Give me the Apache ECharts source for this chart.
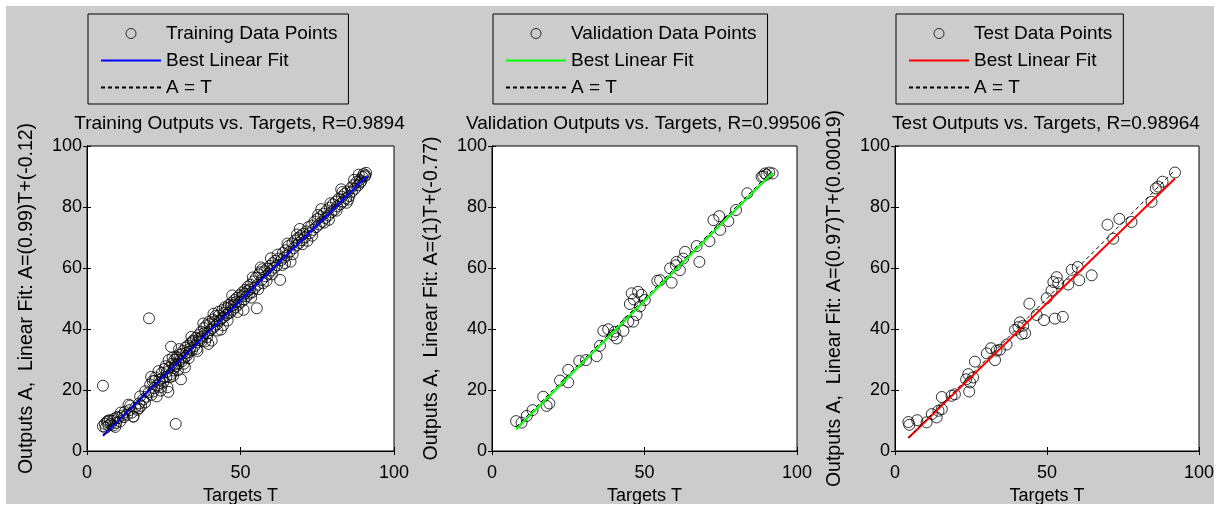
<!DOCTYPE html>
<html>
<head>
<meta charset="utf-8">
<script src="https://cdn.jsdelivr.net/npm/echarts@6/dist/echarts.min.js"></script>
<style>
  html, body { margin: 0; padding: 0; background: #ffffff; }
  #chart { position: absolute; left: 6px; top: 6px; width: 1208px; height: 498px; }
</style>
</head>
<body>
<div id="chart"></div>
<script>
// Regression results: [target T, output A] pairs for each data split
const trainingPoints = [
  [5.2,8.1],[5.8,8.9],[6.1,7.6],[6.5,9.5],[7.0,8.4],[7.4,10.1],[7.8,8.8],[8.3,9.9],[8.9,10.6],[9.5,9.2],[10.1,10.8],[10.8,9.7],[11.5,11.6],
  [12.3,12.8],[13.1,11.9],[13.8,13.4],[14.6,12.6],[15.1,11.3],[15.7,14.2],[16.4,13.5],[17.0,15.6],[17.6,14.8],[18.3,16.9],[18.9,15.9],[19.4,17.8],
  [20.1,19.2],[20.6,21.8],[21.0,18.4],[21.4,22.9],[21.9,20.6],[22.3,24.1],[22.7,17.9],[23.1,21.5],[23.6,23.4],[24.0,19.8],[24.4,25.6],[24.9,22.7],
  [25.3,26.9],[25.8,24.3],[26.2,20.9],[26.5,19.4],[26.8,27.3],[27.2,25.1],[27.4,34.2],[27.7,28.6],[28.1,26.4],[28.5,29.9],[28.9,8.9],[29.0,27.8],
  [29.4,30.5],[29.8,28.7],[30.2,31.6],[30.6,23.5],[30.9,29.4],[31.3,32.8],[31.7,30.6],[32.1,33.9],[32.5,31.2],[32.9,34.6],[33.3,32.5],[33.8,35.3],
  [34.2,33.1],[34.6,36.2],[35.0,34.4],[35.5,37.1],[35.9,35.6],[36.3,38.0],[36.8,36.3],[37.2,39.1],[37.6,37.5],[38.1,40.3],[38.5,35.9],[38.9,41.2],
  [39.3,38.6],[39.8,42.4],[40.2,39.7],[40.6,36.2],[41.0,43.1],[41.5,40.8],[41.9,44.3],[42.3,41.5],[42.8,45.6],[43.2,42.7],[43.6,39.8],[44.1,46.2],
  [44.5,43.9],[44.9,47.1],[45.4,44.6],[45.8,42.8],[46.2,47.9],[46.7,45.4],[47.1,48.6],[47.5,46.3],[48.0,49.5],[48.4,47.1],[48.8,50.2],[49.3,48.0],
  [49.7,51.1],[50.2,48.9],[50.6,52.0],[51.1,49.6],[51.5,52.8],[52.0,50.7],[52.4,53.9],[52.9,51.6],[53.3,54.5],[53.8,52.1],[54.2,55.6],[54.6,53.4],
  [55.1,56.8],[55.3,46.8],[55.6,54.5],[56.0,57.9],[56.4,58.6],[56.9,56.1],[57.3,55.0],[57.8,58.9],[58.2,57.3],[58.7,59.8],[59.1,58.1],[59.6,60.7],
  [60.0,59.2],[60.5,61.6],[61.0,60.1],[61.4,62.4],[61.9,60.9],[62.4,63.1],[62.9,56.1],[63.3,62.6],[63.8,64.9],[64.2,63.4],[64.7,65.8],[65.1,64.1],
  [65.6,67.2],[66.0,65.3],[66.3,62.1],[66.9,68.1],[67.3,66.5],[67.8,69.0],[68.2,67.4],[68.7,69.8],[69.1,68.2],[69.6,70.5],[70.0,69.1],[70.5,71.2],
  [71.0,70.1],[71.5,72.0],[72.1,73.4],[72.6,71.4],[73.1,73.9],[73.6,72.5],[74.1,75.2],[74.6,73.4],[75.1,76.1],[75.6,74.3],[76.1,76.9],[76.6,75.2],
  [77.1,77.8],[77.6,76.4],[78.1,78.9],[78.6,77.2],[79.1,79.8],[79.6,78.3],[80.1,80.9],[80.6,79.1],[81.1,81.8],[81.5,80.2],[82.0,82.7],[82.5,80.9],
  [83.0,83.4],[83.4,81.8],[83.9,84.3],[84.4,82.9],[84.9,85.1],[85.4,83.6],[85.9,86.2],[86.3,85.0],[86.8,87.1],[87.3,86.0],[87.8,88.2],[88.3,87.1],
  [88.8,88.9],[89.3,88.4],[89.7,89.9],[90.1,90.8],[90.5,90.1],[90.9,91.2],
  [5.2,21.4],[20.2,43.5],[15.1,11.3],[51.0,46.3],
  [6.8,9.9],[8.6,8.4],[9.9,11.2],[12.0,11.1],[14.1,14.9],[16.9,14.0],[19.0,19.6],[21.6,19.5],[22.1,23.0],[23.8,22.3],[24.6,23.9],[25.6,27.8],
  [26.0,25.9],[27.0,24.2],[27.9,30.6],[28.3,27.2],[28.7,28.4],[29.2,30.9],[29.6,26.5],[30.4,29.9],[31.0,31.9],[31.5,28.6],[32.3,32.1],[33.1,30.4],
  [33.6,33.6],[34.4,35.9],[35.7,33.5],[36.5,36.9],[37.4,36.0],[38.3,38.7],[39.1,37.3],[40.0,41.6],[40.8,40.2],[41.7,42.5],[42.5,39.5],[43.0,44.4],
  [43.9,43.5],[44.7,45.3],[45.6,46.8],[46.0,45.1],[46.9,47.4],[47.8,47.9],[48.6,48.8],[50.4,50.6],[51.3,51.5],[52.2,52.4],[53.1,53.0],[54.0,56.9],
  [55.8,53.1],[57.1,59.6],[58.5,55.8],[60.2,57.9],[62.1,64.4],[63.6,61.0],[65.3,68.0],[67.0,64.5],[68.4,71.0],[70.2,67.8],[73.3,70.6],[75.3,77.4],
  [77.3,74.9],[79.3,81.2],[81.3,78.8],[83.2,84.9],[85.1,82.4],[87.0,88.9],[89.0,88.0],[90.7,90.4],
  [9.2,7.9],[11.0,12.6],[13.5,15.2],[17.3,17.9],[20.9,24.3],[23.3,26.2],[24.2,21.0],[26.6,29.8],[28.0,24.6],[30.0,33.4],
  [31.9,27.4],[34.0,37.4],[36.0,32.8],[37.9,41.8],[39.5,35.1],[41.2,45.0],[44.3,41.2],[47.3,51.0],[49.0,45.6],[53.5,50.3],
  [56.6,60.2],[59.9,63.2],[64.5,61.6],[69.3,72.8],[71.8,68.9],[76.3,79.3],[78.8,75.8],[82.8,85.8],[84.6,81.4],[88.5,90.6]
];

const validationPoints = [
  [7.9,9.8],[9.7,9.3],[11.4,11.5],[13.3,13.4],[16.8,17.8],[17.9,14.8],[18.8,15.6],[22.3,23.1],[25.0,26.6],[25.0,22.5],
  [28.6,29.5],[30.8,29.8],[34.3,31.1],[35.4,34.5],[36.5,39.4],[38.1,39.9],[39.8,38.0],[40.9,36.9],[40.3,39.1],[43.1,39.4],
  [44.7,42.4],[46.3,42.4],[47.4,44.6],[45.2,48.2],[45.8,51.7],[46.5,49.7],[47.9,52.2],[49.0,51.2],[50.1,49.5],[48.5,47.4],
  [54.2,55.8],[55.1,56.0],[58.9,55.2],[58.4,59.9],[60.3,60.9],[61.6,59.3],[60.5,62.0],[63.3,65.3],[62.7,63.1],[67.1,67.2],
  [68.0,62.0],[71.3,68.8],[72.6,75.7],[74.5,77.0],[74.8,72.5],[77.5,75.4],[80.0,79.0],[83.7,84.5],[88.4,89.9],[89.5,91.0],
  [90.9,91.3],[92.0,91.0],[88.9,90.1],[90.0,90.6]
];

const testPoints = [
  [4.4,9.5],[4.7,8.6],[7.3,10.1],[10.4,9.4],[12.1,12.1],[13.7,11.0],[14.3,13.2],[15.4,13.7],[15.4,17.7],[18.6,18.1],
  [19.7,18.6],[23.4,23.5],[24.1,25.2],[24.7,22.5],[25.7,24.1],[24.4,19.5],[26.3,29.3],[30.2,32.0],[31.6,33.7],[32.9,29.8],
  [33.4,32.9],[34.5,33.2],[36.7,34.9],[39.5,39.7],[40.6,40.6],[41.1,42.2],[42.2,41.1],[42.8,38.6],[41.7,38.4],[44.2,48.3],
  [46.6,44.6],[49.0,42.9],[49.9,50.1],[52.6,43.4],[55.2,44.0],[51.5,52.6],[52.1,55.4],[53.2,57.0],[53.7,55.0],[57.0,54.6],
  [58.1,59.4],[60.1,60.3],[60.6,56.0],[64.7,57.6],[69.9,74.2],[73.8,76.1],[71.8,69.6],[77.8,75.1],[84.4,81.7],[85.8,86.1],
  [86.6,86.7],[88.0,88.3],[92.1,91.3]
];

const panelPoints = [trainingPoints, validationPoints, testPoints];
const panelTitles = [
  'Training Outputs vs. Targets, R=0.9894',
  'Validation Outputs vs. Targets, R=0.99506',
  'Test Outputs vs. Targets, R=0.98964'
];
const yAxisNames = [
  'Outputs A,  Linear Fit: A=(0.99)T+(-0.12)',
  'Outputs A,  Linear Fit: A=(1)T+(-0.77)',
  'Outputs A,  Linear Fit: A=(0.97)T+(0.00019)'
];
const xAxisName = 'Targets T';
const pointLegendNames = ['Training Data Points', 'Validation Data Points', 'Test Data Points'];
const fitLegendName = 'Best Linear Fit';
const identityLegendName = 'A = T';
const fitSlopes = [0.99, 1, 0.97];
const fitIntercepts = [-0.12, -0.77, 0.00019];
const fitColors = ['#0000ff', '#00ff00', '#ff0000'];
const axisMin = 0, axisMax = 100, xStep = 50, yStep = 20;

// Layout of the three panels (chart coordinates)
const grids = [
  { left: 81, top: 140, width: 307, height: 305 },
  { left: 486, top: 140, width: 305, height: 305 },
  { left: 889, top: 140, width: 304, height: 305 }
];

const FONT = "'Liberation Sans', Arial, Helvetica, sans-serif";
const textBase = { color: '#000', fontFamily: FONT };

const legendText = {};
const option = {
  backgroundColor: '#cccccc',
  animation: false,
  grid: [], xAxis: [], yAxis: [], series: [], title: [], legend: []
};

const tickStyle = { show: true, inside: true, length: 4, lineStyle: { color: '#000', width: 1 } };
const lineStyleAxis = { show: true, lineStyle: { color: '#000', width: 1 } };

grids.forEach((g, i) => {
  option.grid.push({
    left: g.left, top: g.top, width: g.width, height: g.height,
    containLabel: false, outerBoundsMode: 'none',
    show: true, backgroundColor: '#ffffff', borderColor: '#000', borderWidth: 1
  });
  // bottom / left axes carry labels and names
  option.xAxis.push({
    type: 'value', gridIndex: i, position: 'bottom', min: axisMin, max: axisMax, interval: xStep,
    axisLine: lineStyleAxis, axisTick: tickStyle, splitLine: { show: false },
    axisLabel: Object.assign({ fontSize: 18, margin: 13 }, textBase),
    name: xAxisName, nameLocation: 'middle', nameGap: 30,
    nameTextStyle: Object.assign({ fontSize: 18 }, textBase)
  });
  option.yAxis.push({
    type: 'value', gridIndex: i, position: 'left', min: axisMin, max: axisMax, interval: yStep,
    axisLine: lineStyleAxis, axisTick: tickStyle, splitLine: { show: false },
    axisLabel: Object.assign({ fontSize: 18, margin: 5 }, textBase),
    name: yAxisNames[i], nameLocation: 'middle', nameRotate: 90, nameGap: 50,
    nameTextStyle: Object.assign({ fontSize: 19.5 }, textBase)
  });
});
// top / right axes only mirror the tick marks of the box
grids.forEach((g, i) => {
  option.xAxis.push({
    type: 'value', gridIndex: i, position: 'top', min: axisMin, max: axisMax, interval: xStep,
    axisLine: lineStyleAxis, axisTick: tickStyle, splitLine: { show: false }, axisLabel: { show: false }
  });
  option.yAxis.push({
    type: 'value', gridIndex: i, position: 'right', min: axisMin, max: axisMax, interval: yStep,
    axisLine: lineStyleAxis, axisTick: tickStyle, splitLine: { show: false }, axisLabel: { show: false }
  });
});

panelPoints.forEach((pts, i) => {
  // fit and identity lines span the combined range of targets and outputs
  const all = [];
  pts.forEach(p => { all.push(p[0], p[1]); });
  const lo = Math.min.apply(null, all);
  const hi = Math.max.apply(null, all);
  const m = fitSlopes[i], b = fitIntercepts[i];

  const ptsName = 'pts' + i, fitName = 'fit' + i, idName = 'ident' + i;
  legendText[ptsName] = pointLegendNames[i];
  legendText[fitName] = fitLegendName;
  legendText[idName] = identityLegendName;

  option.series.push({
    name: ptsName, type: 'scatter', xAxisIndex: i, yAxisIndex: i,
    data: pts, symbol: 'circle', symbolSize: 11, silent: true, z: 2,
    itemStyle: { color: 'rgba(0,0,0,0)', borderColor: '#000', borderWidth: 1 }
  });
  option.series.push({
    name: fitName, type: 'line', xAxisIndex: i, yAxisIndex: i,
    data: [[lo, m * lo + b], [hi, m * hi + b]], symbol: 'none', silent: true, z: 3,
    lineStyle: { color: fitColors[i], width: 2 }, itemStyle: { color: fitColors[i] }
  });
  option.series.push({
    name: idName, type: 'line', xAxisIndex: i, yAxisIndex: i,
    data: [[lo, lo], [hi, hi]], symbol: 'none', silent: true, z: 4,
    lineStyle: { color: '#000', width: 1, type: [4, 3] }, itemStyle: { color: '#000' }
  });

  const g = grids[i];
  option.title.push({
    text: panelTitles[i], left: g.left + g.width / 2 - 1, top: 108, textAlign: 'center', padding: 0,
    textStyle: Object.assign({ fontSize: 19, fontWeight: 'normal' }, textBase)
  });
  option.legend.push({
    left: g.left + 1, top: 8, orient: 'vertical', selectedMode: false,
    padding: [10, 11, 7, 12], itemGap: 8, itemWidth: 60, itemHeight: 10,
    borderColor: '#000', borderWidth: 1, backgroundColor: 'transparent',
    textStyle: Object.assign({ fontSize: 19 }, textBase),
    formatter: name => legendText[name],
    data: [
      { name: ptsName, icon: 'circle', itemStyle: { color: 'rgba(0,0,0,0)', borderColor: '#000', borderWidth: 1 } },
      { name: fitName, itemStyle: { opacity: 0 } },
      { name: idName, itemStyle: { opacity: 0 } }
    ]
  });
});

const chart = echarts.init(document.getElementById('chart'), null, { renderer: 'canvas' });
chart.setOption(option);
</script>
</body>
</html>
